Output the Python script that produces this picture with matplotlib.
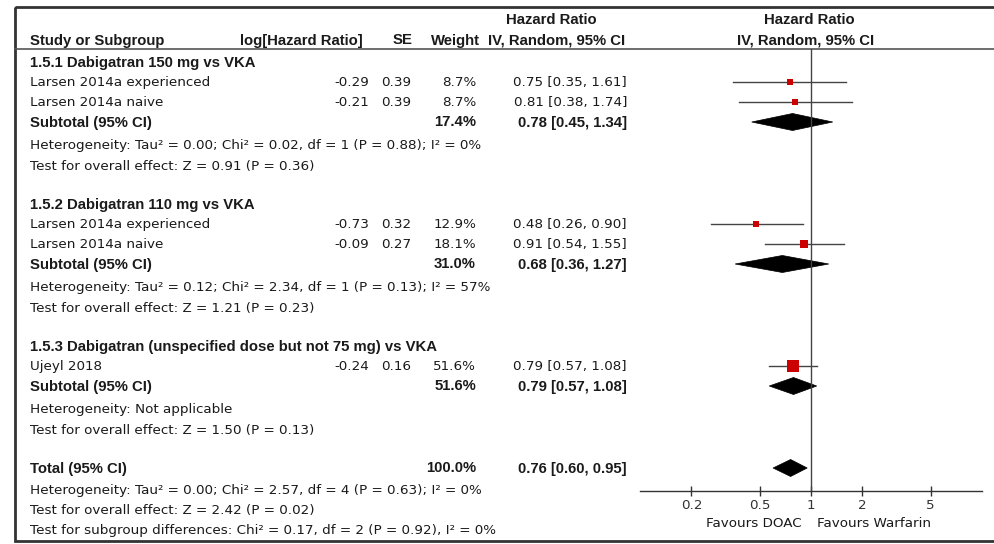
import matplotlib
matplotlib.use('Agg')

import matplotlib.pyplot as plt
from matplotlib.patches import Polygon, Rectangle

plt.rcParams['font.family'] = ['DejaVu Sans']

# ==========================================
# DATA
# ==========================================
subgroup_titles = ["1.5.1 Dabigatran 150 mg vs VKA",
                   "1.5.2 Dabigatran 110 mg vs VKA",
                   "1.5.3 Dabigatran (unspecified dose but not 75 mg) vs VKA"]
study_names = [["Larsen 2014a experienced", "Larsen 2014a naive"],
               ["Larsen 2014a experienced", "Larsen 2014a naive"],
               ["Ujeyl 2018"]]
log_hr = [[-0.29, -0.21], [-0.73, -0.09], [-0.24]]
se = [[0.39, 0.39], [0.32, 0.27], [0.16]]
weights = [[8.7, 8.7], [12.9, 18.1], [51.6]]
hr = [[0.75, 0.81], [0.48, 0.91], [0.79]]
hr_lo = [[0.35, 0.38], [0.26, 0.54], [0.57]]
hr_hi = [[1.61, 1.74], [0.90, 1.55], [1.08]]

sub_weight = [17.4, 31.0, 51.6]
sub_hr = [0.78, 0.68, 0.79]
sub_lo = [0.45, 0.36, 0.57]
sub_hi = [1.34, 1.27, 1.08]
sub_het = ["Heterogeneity: Tau\u00b2 = 0.00; Chi\u00b2 = 0.02, df = 1 (P = 0.88); I\u00b2 = 0%",
           "Heterogeneity: Tau\u00b2 = 0.12; Chi\u00b2 = 2.34, df = 1 (P = 0.13); I\u00b2 = 57%",
           "Heterogeneity: Not applicable"]
sub_test = ["Test for overall effect: Z = 0.91 (P = 0.36)",
            "Test for overall effect: Z = 1.21 (P = 0.23)",
            "Test for overall effect: Z = 1.50 (P = 0.13)"]

total_weight = 100.0
total_hr = 0.76
total_lo = 0.60
total_hi = 0.95
total_notes = ["Heterogeneity: Tau\u00b2 = 0.00; Chi\u00b2 = 2.57, df = 4 (P = 0.63); I\u00b2 = 0%",
               "Test for overall effect: Z = 2.42 (P = 0.02)",
               "Test for subgroup differences: Chi\u00b2 = 0.17, df = 2 (P = 0.92), I\u00b2 = 0%"]

axis_ticks = [0.2, 0.5, 1, 2, 5]
axis_ticklabels = ["0.2", "0.5", "1", "2", "5"]

# ==========================================
# LAYOUT (pixels)
# ==========================================
W, H = 995, 544
FS = 9.7
FS_BOLD = 10.7
x_name = 30
x_loghr = 369
x_se = 411
x_weight = 476
x_ci = 627
x_forest_l, x_forest_r = 640, 982
y_head_line = 49
y_axis = 491
ink = '#1a1a1a'

fig = plt.figure(figsize=(W / 100, H / 100), dpi=100)
ax = fig.add_axes([0, 0, 1, 1])
ax.set_xlim(0, W)
ax.set_ylim(H, 0)
ax.axis('off')

fx = fig.add_axes([x_forest_l / W, 1 - y_axis / H,
                   (x_forest_r - x_forest_l) / W, (y_axis - y_head_line) / H])
fx.set_xscale('log')
fx.set_xlim(0.1, 10)
fx.set_ylim(y_axis, y_head_line)
fx.patch.set_alpha(0)
for s in ['top', 'left', 'right']:
    fx.spines[s].set_visible(False)
fx.spines['bottom'].set_color('#333333')
fx.spines['bottom'].set_linewidth(1.0)
fx.set_yticks([])
fx.set_xticks(axis_ticks)
fx.set_xticklabels(axis_ticklabels)
fx.minorticks_off()
fx.tick_params(axis='x', direction='inout', length=7, width=1, color='#333333',
               labelsize=FS, labelcolor='#333333', pad=2)
fx.axvline(1, color='#444444', lw=1.0)


def txt(x, y, s, ha='left', bold=False):
    # text sits a touch above the mark row
    y = y - 1
    if bold:
        ax.text(x, y, s, ha=ha, va='center_baseline', fontsize=FS_BOLD, color=ink,
                fontweight='bold', family='Liberation Sans')
    else:
        ax.text(x, y, s, ha=ha, va='center_baseline', fontsize=FS, color=ink)


def diamond(est, lo, hi, y, h=8.5):
    fx.add_patch(Polygon([(lo, y), (est, y - h), (hi, y), (est, y + h)],
                         closed=True, facecolor='black', edgecolor='black', lw=0.5))


# header
txt(551, 20, "Hazard Ratio", ha='center', bold=True)
txt(809, 20, "Hazard Ratio", ha='center', bold=True)
txt(x_name, 40, "Study or Subgroup", bold=True)
txt(363, 40, "log[Hazard Ratio]", ha='right', bold=True)
txt(413, 40, "SE", ha='right', bold=True)
txt(480, 40, "Weight", ha='right', bold=True)
txt(557, 40, "IV, Random, 95% CI", ha='center', bold=True)
txt(806, 40, "IV, Random, 95% CI", ha='center', bold=True)

ax.add_patch(Rectangle((15, 7), W, 534, fill=False, edgecolor='#333333', lw=2, clip_on=False))
ax.plot([15, W], [y_head_line, y_head_line], color='#555555', lw=1.2)

# rows
y = 62
for g in range(len(subgroup_titles)):
    txt(x_name, y, subgroup_titles[g], bold=True)
    y += 20
    for i in range(len(study_names[g])):
        txt(x_name, y, study_names[g][i])
        txt(x_loghr, y, f"{log_hr[g][i]:.2f}", ha='right')
        txt(x_se, y, f"{se[g][i]:.2f}", ha='right')
        txt(x_weight, y, f"{weights[g][i]:.1f}%", ha='right')
        txt(x_ci, y, f"{hr[g][i]:.2f} [{hr_lo[g][i]:.2f}, {hr_hi[g][i]:.2f}]", ha='right')
        fx.plot([hr_lo[g][i], hr_hi[g][i]], [y, y], color='#444444', lw=1.0, zorder=2)
        side = 1.8 * weights[g][i] ** 0.5
        fx.plot([hr[g][i]], [y], marker='s', ms=side * 0.72, color='#cc0000',
                markeredgewidth=0, zorder=3)
        y += 20
    txt(x_name, y, "Subtotal (95% CI)", bold=True)
    txt(x_weight, y, f"{sub_weight[g]:.1f}%", ha='right', bold=True)
    txt(x_ci, y, f"{sub_hr[g]:.2f} [{sub_lo[g]:.2f}, {sub_hi[g]:.2f}]", ha='right', bold=True)
    diamond(sub_hr[g], sub_lo[g], sub_hi[g], y)
    y += 23
    txt(x_name, y, sub_het[g])
    y += 21
    txt(x_name, y, sub_test[g])
    y += 38

txt(x_name, y, "Total (95% CI)", bold=True)
txt(x_weight, y, f"{total_weight:.1f}%", ha='right', bold=True)
txt(x_ci, y, f"{total_hr:.2f} [{total_lo:.2f}, {total_hi:.2f}]", ha='right', bold=True)
diamond(total_hr, total_lo, total_hi, y)
y += 22
for note in total_notes:
    txt(x_name, y, note)
    y += 20

txt(802, 523, "Favours DOAC", ha='right')
txt(817, 523, "Favours Warfarin")

fig.savefig("out.png", dpi=100)
